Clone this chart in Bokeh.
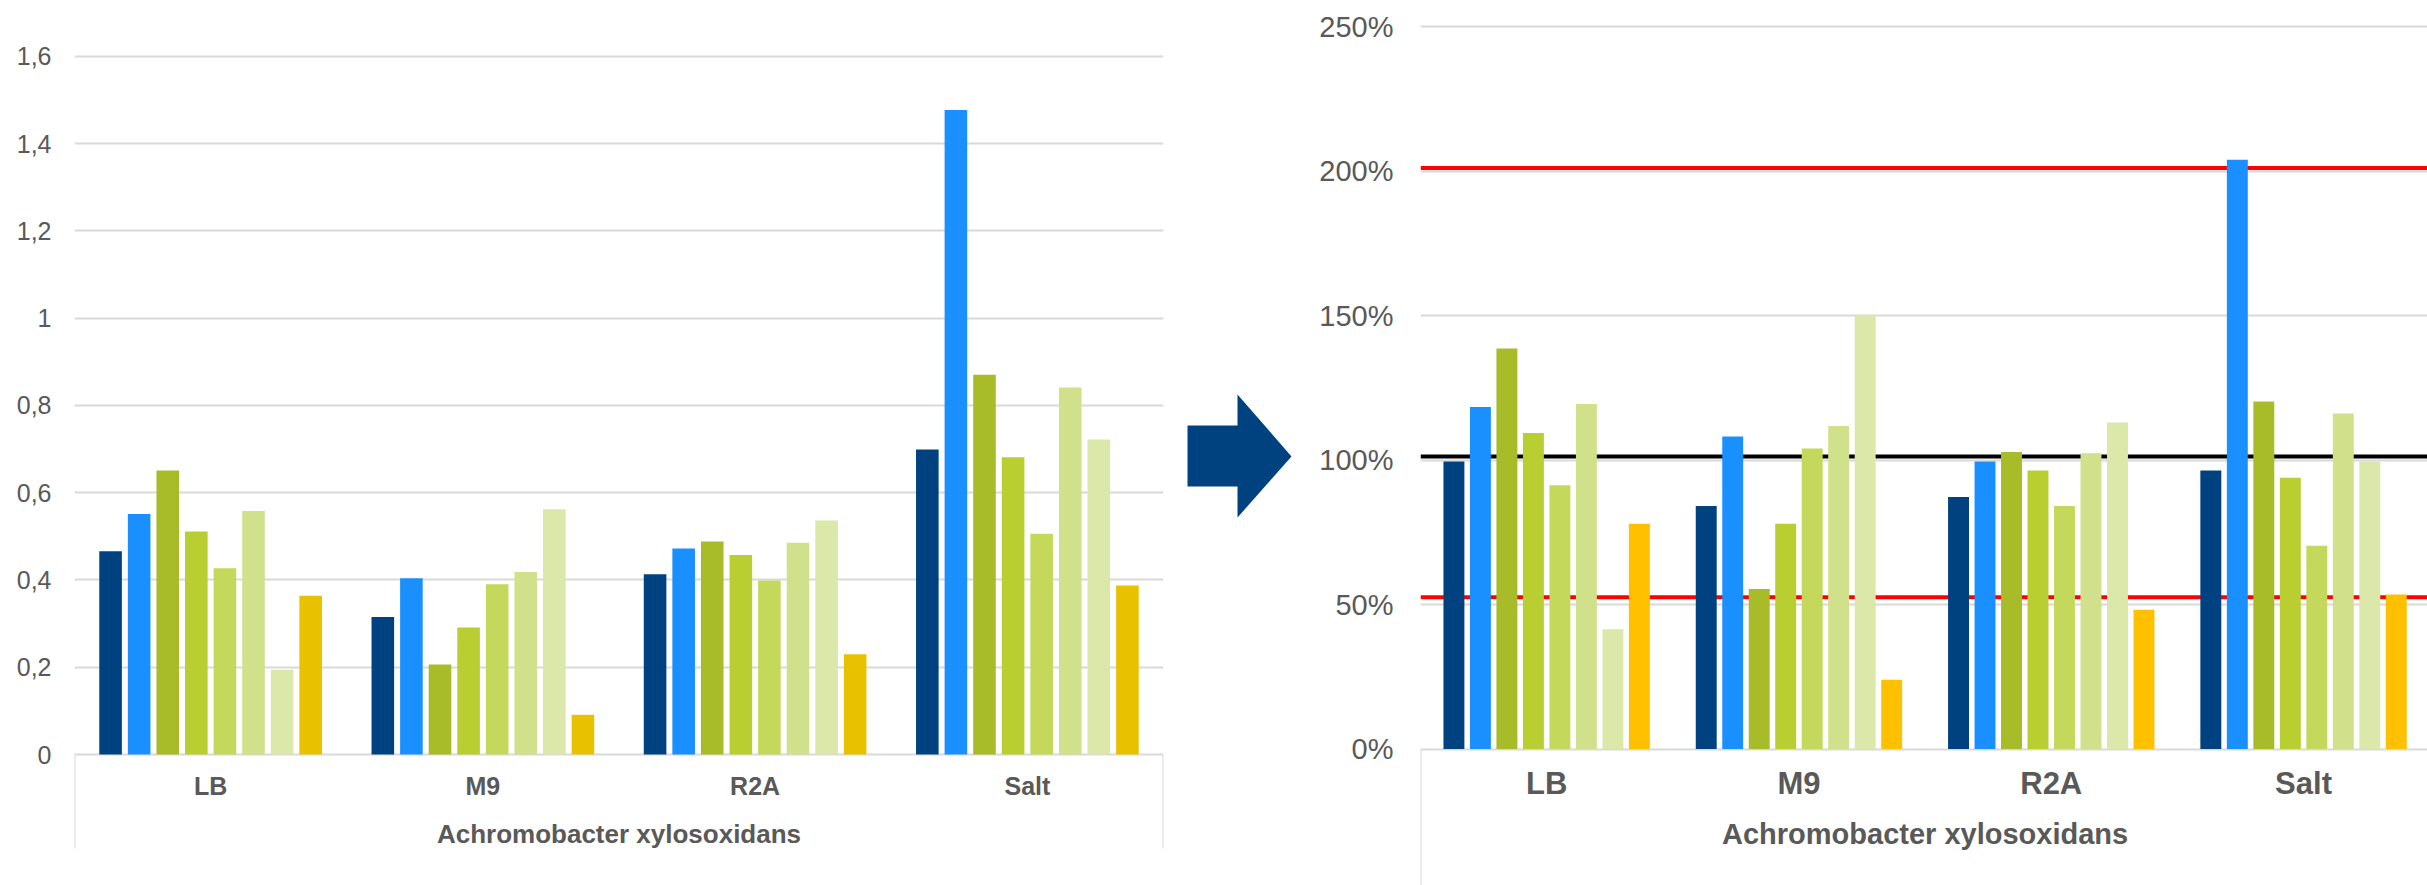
from bokeh.plotting import figure
from bokeh.models import (Range1d, FixedTicker, Span, CustomJSTickFormatter,
                          NumeralTickFormatter, ColumnDataSource)
from bokeh.layouts import row
from bokeh.core.properties import value
from bokeh.embed import file_html
from bokeh.resources import INLINE

# ---------------- data ----------------
categories = ["LB", "M9", "R2A", "Salt"]
group_title = "Achromobacter xylosoxidans"

# left chart: absolute values (8 series per medium)
od_lb = [0.466, 0.551, 0.651, 0.511, 0.427, 0.558, 0.194, 0.364]
od_m9 = [0.315, 0.404, 0.206, 0.291, 0.390, 0.418, 0.562, 0.091]
od_r2a = [0.413, 0.472, 0.488, 0.457, 0.399, 0.485, 0.536, 0.230]
od_salt = [0.699, 1.477, 0.870, 0.681, 0.506, 0.841, 0.722, 0.387]

# right chart: relative values (fraction, shown as %)
rel_lb = [0.995, 1.183, 1.386, 1.093, 0.913, 1.194, 0.414, 0.779]
rel_m9 = [0.841, 1.081, 0.554, 0.779, 1.040, 1.118, 1.503, 0.240]
rel_r2a = [0.872, 0.995, 1.028, 0.964, 0.841, 1.023, 1.130, 0.482]
rel_salt = [0.964, 2.039, 1.202, 0.939, 0.703, 1.161, 0.995, 0.535]

left_ticks = [0, 0.2, 0.4, 0.6, 0.8, 1.0, 1.2, 1.4, 1.6]
right_ticks = [0, 0.5, 1.0, 1.5, 2.0, 2.5]
ref_red = [0.525, 2.01]
ref_black = [1.012]

colors_left = ["#00427F", "#1A90FF", "#A8BC2A", "#B8CE31", "#C4D95B",
               "#D1E08A", "#DCE7AA", "#E8C200"]
colors_right = ["#00427F", "#1A90FF", "#A8BC2A", "#B8CE31", "#C4D95B",
                "#D1E08A", "#DCE7AA", "#FFC000"]

# ---------------- style / layout ----------------
PITCH, BAR_W = 0.105, 0.083
TEXT = "#595959"
GRID = "#d9d9d9"
FONT = "Liberation Sans"
H = 885
BT, BB = 10, 0          # shared top/bottom borders (row aligns frames)
FRAME_H = H - BT - BB


def bar_source(groups, colors):
    xs, tops, cols = [], [], []
    for ci, vals in enumerate(groups):
        n = len(vals)
        for si, v in enumerate(vals):
            xs.append(ci + 0.5 + (si - (n - 1) / 2) * PITCH)
            tops.append(v)
            cols.append(colors[si])
    return ColumnDataSource(dict(x=xs, top=tops, color=cols))


def make_chart(groups, colors, ticks, width, bl, br, cat_px, px_per_unit,
               zero_from_bottom, box_depth, tick_size, standoff, cat_size,
               cat_off, title_size, title_off):
    frame_w = width - bl - br
    y_start = -zero_from_bottom / px_per_unit
    y_end = y_start + FRAME_H / px_per_unit
    x_end = frame_w / cat_px
    p = figure(width=width, height=H, x_range=Range1d(0, x_end),
               y_range=Range1d(y_start, y_end), x_axis_location=None,
               toolbar_location=None, output_backend="svg",
               min_border_left=bl, min_border_right=br,
               min_border_top=BT, min_border_bottom=BB)
    p.outline_line_color = None
    p.background_fill_color = "white"
    p.border_fill_color = "white"
    p.xgrid.visible = False
    ax = p.yaxis[0]
    ax.ticker = FixedTicker(ticks=ticks)
    ax.axis_line_color = None
    ax.major_tick_line_color = None
    ax.minor_tick_line_color = None
    ax.major_tick_out = 0
    ax.major_tick_in = 0
    ax.major_label_standoff = standoff
    ax.major_label_text_font = FONT
    ax.major_label_text_font_size = f"{tick_size}px"
    ax.major_label_text_color = TEXT
    p.ygrid.grid_line_color = GRID
    p.ygrid.grid_line_width = 2

    src = bar_source(groups, colors)
    p.vbar(x="x", top="top", bottom=0, width=BAR_W, color="color",
           line_color=None, source=src, level="glyph")

    ncat = len(categories)
    box_bottom = -box_depth / px_per_unit
    p.segment(x0=[0, ncat], y0=[0, 0], x1=[0, ncat],
              y1=[box_bottom, box_bottom], line_color=GRID, line_width=2)
    p.text(x=[i + 0.5 for i in range(ncat)], y=[0] * ncat, text=categories,
           y_offset=cat_off, text_align="center", text_baseline="middle",
           text_font=value(FONT), text_font_style="bold",
           text_font_size=f"{cat_size}px", text_color=TEXT)
    p.text(x=[ncat / 2], y=[0], text=[group_title], y_offset=title_off,
           text_align="center", text_baseline="middle",
           text_font=value(FONT), text_font_style="bold",
           text_font_size=f"{title_size}px", text_color=TEXT)
    return p


p1 = make_chart([od_lb, od_m9, od_r2a, od_salt], colors_left, left_ticks,
                width=1175, bl=74, br=12, cat_px=1089 / 4, px_per_unit=436.4,
                zero_from_bottom=131, box_depth=94, tick_size=25, standoff=23,
                cat_size=25, cat_off=31, title_size=26, title_off=79)
p1.yaxis[0].formatter = CustomJSTickFormatter(
    code="const s = Number(tick.toFixed(1)).toString(); return s.replace('.', ',');")

p2 = make_chart([rel_lb, rel_m9, rel_r2a, rel_salt], colors_right, right_ticks,
                width=1127, bl=120, br=0, cat_px=252.3, px_per_unit=289,
                zero_from_bottom=136.5, box_depth=140, tick_size=29,
                standoff=27, cat_size=31, cat_off=34, title_size=29,
                title_off=85)
p2.yaxis[0].formatter = NumeralTickFormatter(format="0%")
for v in ref_red:
    p2.add_layout(Span(location=v, dimension="width", line_color="#FF0000",
                       line_width=4, level="underlay"))
for v in ref_black:
    p2.add_layout(Span(location=v, dimension="width", line_color="#000000",
                       line_width=4, level="underlay"))

# arrow between the two charts (figure-local pixel coordinates, y downward)
arrow_x = [12, 62, 62, 116, 62, 62, 12]
arrow_y = [425, 425, 394, 456, 517, 486, 486]
pa = figure(width=125, height=H, x_range=Range1d(0, 125),
            y_range=Range1d(H - BT - BB, 0), x_axis_location=None,
            y_axis_location=None, toolbar_location=None,
            output_backend="svg", min_border_left=0, min_border_right=0,
            min_border_top=BT, min_border_bottom=BB)
pa.outline_line_color = None
pa.grid.visible = False
pa.patch(arrow_x, [y - BT for y in arrow_y], color="#00427F", line_color=None)

layout = row(p1, pa, p2, spacing=0)
open("out.html", "w").write(file_html(layout, INLINE))
